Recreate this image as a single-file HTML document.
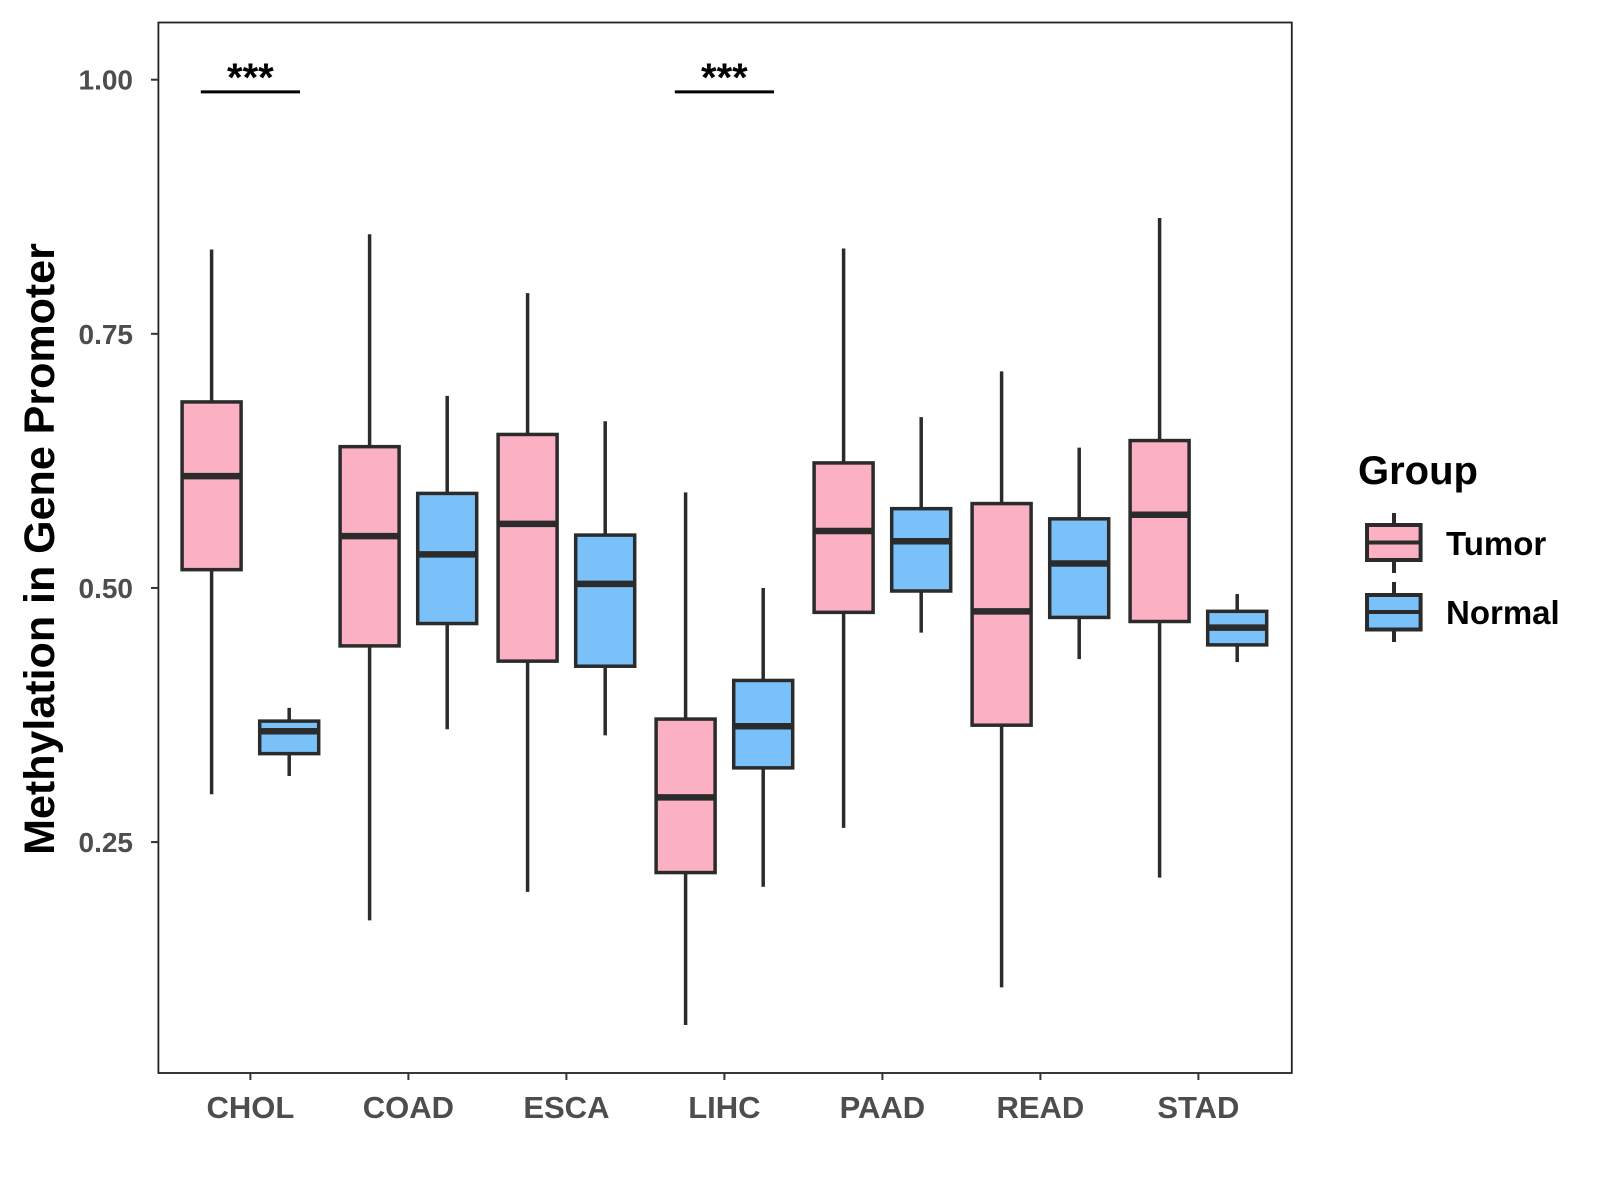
<!DOCTYPE html>
<html><head><meta charset="utf-8"><style>body{margin:0;background:#fff}svg{display:block}</style></head>
<body>
<svg id="chart" width="1600" height="1200" viewBox="0 0 1600 1200" xmlns="http://www.w3.org/2000/svg" font-family="Liberation Sans, Arial, sans-serif">
<rect x="158.4" y="22.5" width="1133.4" height="1050.5" fill="#fff" stroke="#222" stroke-width="1.8"/>
<g id="marks"></g>
<text x="39" y="549" dy="15" transform="rotate(-90 39 549)" text-anchor="middle" font-size="43" font-weight="bold" fill="#000">Methylation in Gene Promoter</text>
<g>
<text x="1358" y="484" font-size="40" font-weight="bold" fill="#000">Group</text>
<g>
<line x1="1394" y1="513" x2="1394" y2="573" stroke="#2b2b2b" stroke-width="4"/>
<rect x="1367" y="525" width="53.6" height="35" fill="#fbb1c3" stroke="#2b2b2b" stroke-width="4"/>
<line x1="1367" y1="542.5" x2="1420.6" y2="542.5" stroke="#2b2b2b" stroke-width="4"/>
<text x="1446" y="555" font-size="33" font-weight="bold" fill="#000">Tumor</text></g>
<g>
<line x1="1394" y1="582" x2="1394" y2="642" stroke="#2b2b2b" stroke-width="4"/>
<rect x="1367" y="595" width="53.6" height="34.5" fill="#79c1f8" stroke="#2b2b2b" stroke-width="4"/>
<line x1="1367" y1="612" x2="1420.6" y2="612" stroke="#2b2b2b" stroke-width="4"/>
<text x="1446" y="624" font-size="33" font-weight="bold" fill="#000">Normal</text></g>
</g>
</svg>
<script>
const categories=["CHOL","COAD","ESCA","LIHC","PAAD","READ","STAD"];
// [min, q1, median, q3, max]
const tumorStats=[[0.297,0.518,0.610,0.683,0.833],[0.173,0.443,0.551,0.639,0.848],[0.201,0.428,0.563,0.651,0.790],[0.070,0.220,0.294,0.371,0.594],[0.264,0.476,0.556,0.623,0.834],[0.107,0.365,0.477,0.583,0.713],[0.215,0.467,0.572,0.645,0.864]];
const normalStats=[[0.315,0.337,0.359,0.369,0.382],[0.361,0.465,0.533,0.593,0.689],[0.355,0.423,0.504,0.552,0.664],[0.206,0.323,0.364,0.409,0.500],[0.456,0.497,0.546,0.578,0.668],[0.430,0.471,0.524,0.568,0.638],[0.427,0.444,0.461,0.477,0.494]];
const yTicks=[0.25,0.50,0.75,1.00];
const yTickLabels=["0.25","0.50","0.75","1.00"];
const sigCategories=["CHOL","LIHC"];
const sigLabels=["***","***"];
const sigLevel=0.988;

const NS="http://www.w3.org/2000/svg";
const g=document.getElementById('marks');
function y(v){return 79.7+(1-v)*1016.5;}
function x(i){return 250.4+i*158.0;}
function el(t,a){const e=document.createElementNS(NS,t);for(const k in a)e.setAttribute(k,a[k]);g.appendChild(e);return e;}
const ink="#2b2b2b";
yTicks.forEach((v,i)=>{
  const t=el('line',{x1:151,x2:158.4,y1:y(v),y2:y(v),stroke:"#333","stroke-width":2});
  
  
  const l=el('text',{x:133,y:y(v)+10,"text-anchor":"end","font-size":28,"font-weight":"bold",fill:"#4d4d4d"});
  l.textContent=yTickLabels[i];
  
  
});
categories.forEach((c,i)=>{
  const t=el('line',{x1:x(i),x2:x(i),y1:1073,y2:1080,stroke:"#333","stroke-width":2});
  
  
  const l=el('text',{x:x(i),y:1118,"text-anchor":"middle","font-size":31,"font-weight":"bold",fill:"#4d4d4d"});
  l.textContent=c;
  
  
  [[tumorStats[i],-38.8,"#fbb1c3","tumor"],[normalStats[i],38.8,"#79c1f8","normal"]].forEach(([s,off,fill,nm])=>{
    const cx=x(i)+off,w=59;
    const grp=document.createElementNS(NS,'g');g.appendChild(grp);
    
    
    const mk=(t,a)=>{const e=document.createElementNS(NS,t);for(const k in a)e.setAttribute(k,a[k]);grp.appendChild(e);return e;};
    mk('line',{x1:cx,x2:cx,y1:y(s[4]),y2:y(s[0]),stroke:ink,"stroke-width":3.5});
    mk('rect',{x:cx-w/2,y:y(s[3]),width:w,height:y(s[1])-y(s[3]),fill:fill,stroke:ink,"stroke-width":3.5});
    mk('line',{x1:cx-w/2,x2:cx+w/2,y1:y(s[2]),y2:y(s[2]),stroke:ink,"stroke-width":6.5});
  });
});
sigCategories.forEach((c,k)=>{
  const i=categories.indexOf(c);
  const b=el('line',{x1:x(i)-49.6,x2:x(i)+49.6,y1:y(sigLevel),y2:y(sigLevel),stroke:"#000","stroke-width":3});
  
  
  const t=el('text',{x:x(i),y:y(sigLevel)-1,"text-anchor":"middle","font-size":40,"font-weight":"bold",fill:"#000"});
  t.textContent=sigLabels[k];
  
  
});
</script>
</body></html>
